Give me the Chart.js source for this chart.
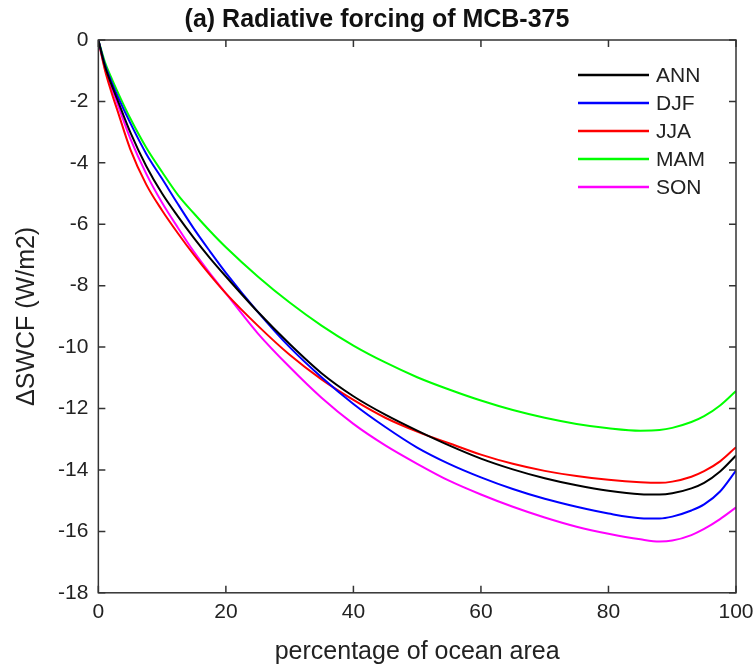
<!DOCTYPE html>
<html>
<head>
<meta charset="utf-8">
<script src="https://cdn.jsdelivr.net/npm/chart.js@4"></script>
<style>
  body { margin: 0; background: #fff; }
  canvas { display: block; }
</style>
</head>
<body>
<canvas id="forcingChart" width="754" height="667"></canvas>
<script>
// x: percentage of ocean area seeded
const pct = [0, 1, 2, 3, 5, 7.5, 10, 12.5, 15, 17.5, 20, 25, 30, 35, 40, 45, 50, 55, 60, 65, 70, 75, 80, 85, 88, 90, 93, 95, 97.5, 100];

// delta SWCF (W/m2) per season
const ann = [0, -0.83, -1.42, -1.95, -3.0, -4.1, -5.0, -5.75, -6.45, -7.1, -7.7, -8.85, -9.9, -10.85, -11.6, -12.2, -12.72, -13.2, -13.63, -13.98, -14.27, -14.5, -14.68, -14.79, -14.8, -14.76, -14.6, -14.42, -14.05, -13.53];
const djf = [0, -0.78, -1.33, -1.82, -2.7, -3.7, -4.52, -5.35, -6.15, -6.88, -7.58, -8.85, -10.0, -10.98, -11.85, -12.6, -13.27, -13.8, -14.24, -14.62, -14.94, -15.2, -15.42, -15.57, -15.58, -15.52, -15.32, -15.12, -14.7, -14.02];
const jja = [0, -0.95, -1.67, -2.3, -3.55, -4.7, -5.55, -6.3, -7.0, -7.65, -8.25, -9.3, -10.25, -11.05, -11.72, -12.3, -12.75, -13.13, -13.5, -13.8, -14.03, -14.2, -14.32, -14.4, -14.42, -14.38, -14.22, -14.04, -13.72, -13.26];
const mam = [0, -0.7, -1.21, -1.68, -2.55, -3.5, -4.3, -5.05, -5.65, -6.22, -6.75, -7.7, -8.55, -9.3, -9.95, -10.5, -10.98, -11.38, -11.74, -12.05, -12.3, -12.5, -12.64, -12.72, -12.7, -12.63, -12.44, -12.25, -11.9, -11.43];
const son = [0, -0.9, -1.52, -2.08, -3.2, -4.35, -5.3, -6.12, -6.9, -7.6, -8.25, -9.55, -10.65, -11.65, -12.5, -13.2, -13.8, -14.35, -14.8, -15.2, -15.55, -15.85, -16.08, -16.26, -16.33, -16.3, -16.12, -15.92, -15.6, -15.22];

const seriesNames = ["ANN", "DJF", "JJA", "MAM", "SON"];
const seriesValues = [ann, djf, jja, mam, son];
const seriesColors = ["#000000", "#0000ff", "#ff0000", "#00ff00", "#ff00ff"];

const FONT = "'Liberation Sans', Arial, Helvetica, sans-serif";
const TEXT = "#222";

// frame with inward ticks on all four sides, plus the legend in the top right corner
const frameAndLegend = {
    id: "frameAndLegend",
    afterDatasetsDraw(chart) {
        const { ctx, chartArea: a, scales } = chart;
        const len = 7;
        ctx.save();
        ctx.strokeStyle = "#333";
        ctx.lineWidth = 1.5;
        ctx.strokeRect(a.left, a.top, a.right - a.left, a.bottom - a.top);

        ctx.beginPath();
        scales.x.ticks.forEach(t => {
            const px = scales.x.getPixelForValue(t.value);
            ctx.moveTo(px, a.bottom); ctx.lineTo(px, a.bottom - len);
            ctx.moveTo(px, a.top); ctx.lineTo(px, a.top + len);
        });
        scales.y.ticks.forEach(t => {
            const py = scales.y.getPixelForValue(t.value);
            ctx.moveTo(a.left, py); ctx.lineTo(a.left + len, py);
            ctx.moveTo(a.right, py); ctx.lineTo(a.right - len, py);
        });
        ctx.stroke();

        ctx.font = "21px " + FONT;
        ctx.textBaseline = "middle";
        ctx.fillStyle = TEXT;
        chart.data.datasets.forEach((ds, i) => {
            const ly = a.top + 35 + i * 28;
            ctx.strokeStyle = ds.borderColor;
            ctx.lineWidth = 2.5;
            ctx.beginPath();
            ctx.moveTo(a.right - 158, ly);
            ctx.lineTo(a.right - 87, ly);
            ctx.stroke();
            ctx.fillText(ds.label, a.right - 80, ly + 1);
        });
        ctx.restore();
    }
};

const chart = new Chart(document.getElementById("forcingChart"), {
    type: "line",
    data: {
        datasets: seriesNames.map((name, i) => ({
            label: name,
            data: pct.map((p, j) => ({ x: p, y: seriesValues[i][j] })),
            borderColor: seriesColors[i],
            borderWidth: 2,
            pointRadius: 0,
            cubicInterpolationMode: "monotone",
            fill: false
        }))
    },
    options: {
        responsive: false,
        animation: false,
        devicePixelRatio: 1,
        layout: { padding: { left: 0, right: 0, top: 0, bottom: 0 } },
        plugins: {
            legend: { display: false },
            tooltip: { enabled: false },
            title: {
                display: true,
                text: "(a) Radiative forcing of MCB-375",
                color: "#111",
                font: { family: FONT, size: 25, weight: "bold" },
                padding: { top: 5, bottom: 5 }
            }
        },
        scales: {
            x: {
                type: "linear",
                min: 0,
                max: 100,
                grid: { display: false, drawTicks: false },
                border: { display: false },
                ticks: { stepSize: 20, padding: 7, color: TEXT, font: { family: FONT, size: 21 } },
                afterFit(scale) { scale.paddingRight = 18; },
                title: {
                    display: true,
                    text: "percentage of ocean area",
                    color: TEXT,
                    font: { family: FONT, size: 25 },
                    padding: { top: 5, bottom: 0 }
                }
            },
            y: {
                min: -18,
                max: 0,
                grid: { display: false, drawTicks: false },
                border: { display: false },
                ticks: { stepSize: 2, padding: 10, color: TEXT, font: { family: FONT, size: 21 } },
                title: {
                    display: true,
                    text: "\u0394SWCF (W/m2)",
                    color: TEXT,
                    font: { family: FONT, size: 25 },
                    padding: { top: 12, bottom: 6 }
                }
            }
        }
    },
    plugins: [frameAndLegend]
});
</script>
</body>
</html>
